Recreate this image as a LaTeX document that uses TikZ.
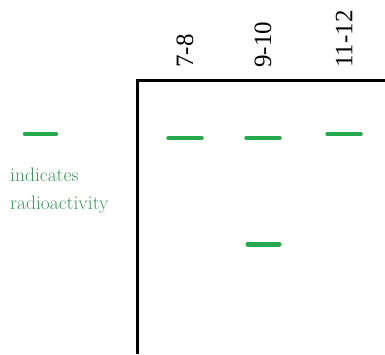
\documentclass[tikz,border=0pt]{standalone}
\usepackage{fontspec}
\newfontfamily\lanefont{Liberation Serif}

\definecolor{bandgreen}{RGB}{38,168,78}
\definecolor{textgreen}{RGB}{62,152,92}

\tikzset{
  band/.style={bandgreen, line width=3.5pt, line cap=round},
  lanelabel/.style={rotate=90, anchor=west, inner sep=0pt,
    font=\lanefont\fontsize{25}{25}\selectfont},
  keytext/.style={anchor=base west, inner sep=0pt, textgreen,
    font=\fontsize{19.5}{20}\selectfont},
}

\begin{document}
\begin{tikzpicture}[x=1pt,y=-1pt]
\useasboundingbox (0,0) rectangle (385,354);

% Gel
\draw[line width=3pt] (385,80) -| (137,354);

% Pistes
\foreach \x/\txt/\y [count=\i] in {
185/{7-8}/138,
263/{9-10}/138,
344/{11-12}/134
}
{
    \node[lanelabel] (lane\i) at (\x,68) {\txt};
    \draw[band] (\x-17,\y) -- (\x+17,\y);
}

% Bande basse
\draw[band, line width=5pt] (248,244) -- (279,244);

% Legende
\draw[band, line width=4.5pt] (25,134) -- (56,134);
\node[keytext] (key1) at (10,181) {indicates};
\node[keytext] (key2) at (10,209) {radioactivity};

\end{tikzpicture}
\end{document}
